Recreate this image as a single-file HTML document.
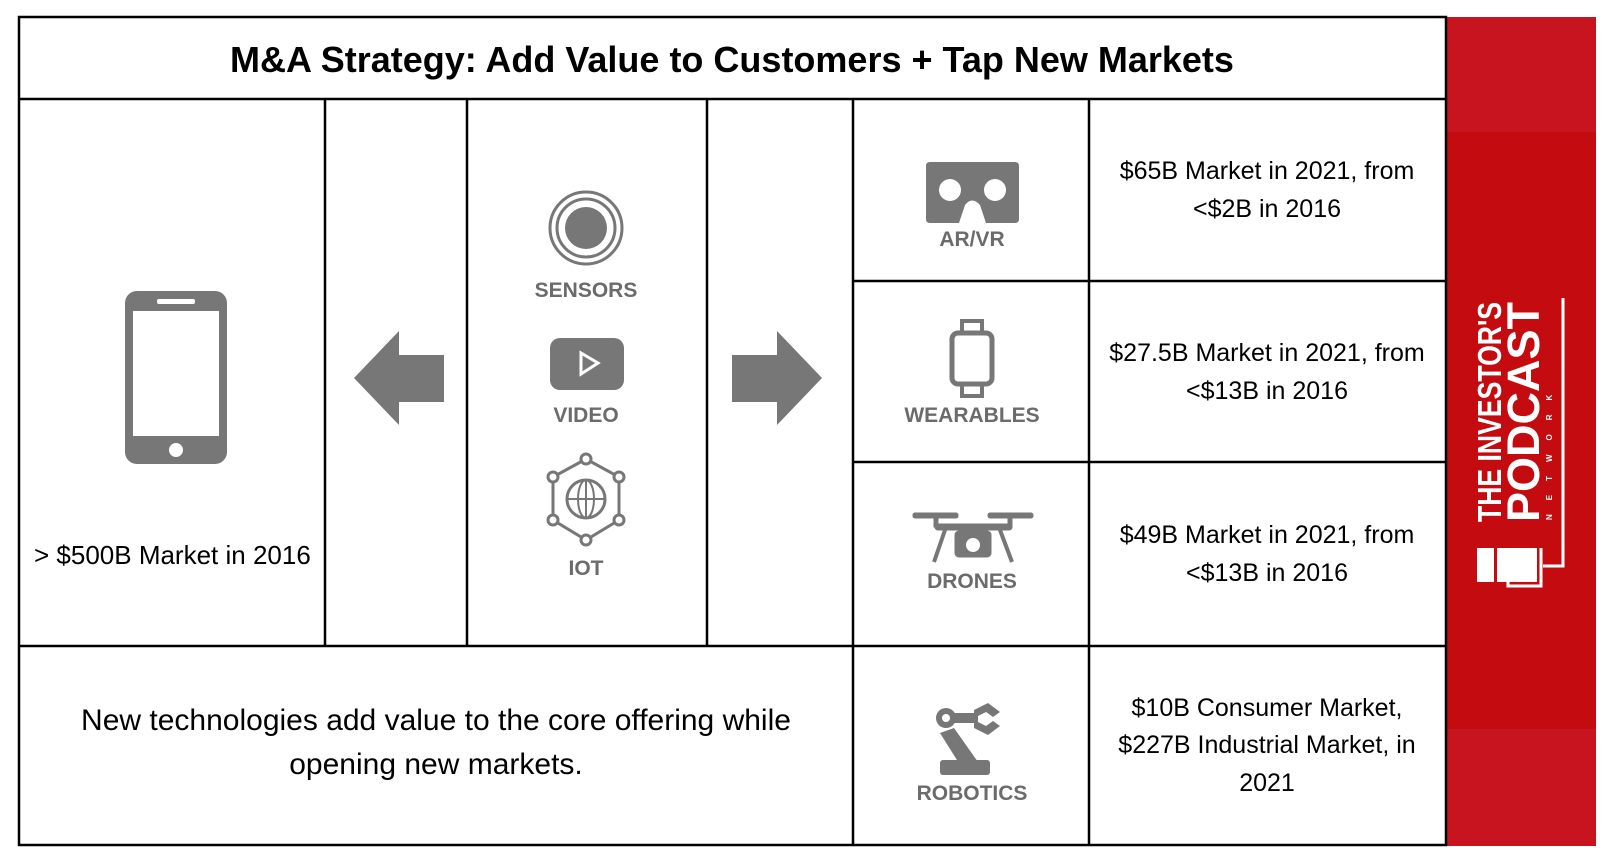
<!DOCTYPE html>
<html><head><meta charset="utf-8"><style>
html,body{margin:0;padding:0;background:#fff;}
svg{display:block;}
.t{font-family:"Liberation Sans",sans-serif;fill:#000;}
.l{font-family:"Liberation Sans",sans-serif;fill:#6b6b6b;font-weight:bold;font-size:21px;}
</style></head><body>
<svg width="1612" height="858" viewBox="0 0 1612 858" xmlns="http://www.w3.org/2000/svg">
<rect width="1612" height="858" fill="#fff"/>
<rect x="1446" y="17" width="150" height="829" fill="#c40c10"/>
<rect x="1446" y="17" width="150" height="115" fill="#c8141e"/>
<rect x="1446" y="729" width="150" height="117" fill="#c8141e"/>
<g stroke="#000" stroke-width="2.5" fill="none">
<rect x="19" y="17" width="1427" height="828"/>
<line x1="19" y1="99" x2="1446" y2="99"/>
<line x1="325" y1="99" x2="325" y2="646"/>
<line x1="467" y1="99" x2="467" y2="646"/>
<line x1="707" y1="99" x2="707" y2="646"/>
<line x1="853" y1="99" x2="853" y2="845"/>
<line x1="1089" y1="99" x2="1089" y2="845"/>
<line x1="853" y1="281" x2="1446" y2="281"/>
<line x1="853" y1="462" x2="1446" y2="462"/>
<line x1="19" y1="646" x2="1446" y2="646"/>
</g>
<text class="t" x="732" y="72" text-anchor="middle" font-size="36" font-weight="bold">M&amp;A Strategy: Add Value to Customers + Tap New Markets</text>
<rect x="125" y="291" width="102" height="173" rx="12" fill="#777"/>
<rect x="133" y="311" width="86" height="125" fill="#fff"/>
<rect x="157" y="299" width="38" height="5" rx="2" fill="#fff"/>
<circle cx="176" cy="450" r="7" fill="#fff"/>
<text class="t" x="34" y="564" font-size="26">&gt; $500B Market in 2016</text>
<polygon points="354,378 399,331 399,355 444,355 444,402 399,402 399,425" fill="#777"/>
<polygon points="822,378 777,331 777,355 732,355 732,402 777,402 777,425" fill="#777"/>
<circle cx="586" cy="228" r="36" fill="none" stroke="#777" stroke-width="3"/>
<circle cx="586" cy="228" r="29" fill="none" stroke="#777" stroke-width="3"/>
<circle cx="586" cy="228" r="21" fill="#777"/>
<text class="l" x="586" y="297" text-anchor="middle">SENSORS</text>
<rect x="550" y="338" width="74" height="52" rx="10" fill="#777"/>
<polygon points="581,353 581,374 598,363" fill="none" stroke="#fff" stroke-width="3"/>
<text class="l" x="586" y="422" text-anchor="middle">VIDEO</text>
<g stroke="#777" stroke-width="3" fill="#fff">
<polyline points="586,459 553,477 553,520 586,540 619,520 619,477 586,459" fill="none"/>
<circle cx="586" cy="499" r="19"/>
<ellipse cx="586" cy="499" rx="8" ry="19" fill="none" stroke-width="2"/>
<line x1="567" y1="499" x2="605" y2="499" stroke-width="2"/>
<line x1="586" y1="480" x2="586" y2="518" stroke-width="2"/>
<circle cx="586" cy="459" r="5"/><circle cx="553" cy="477" r="5"/><circle cx="619" cy="477" r="5"/>
<circle cx="553" cy="520" r="5"/><circle cx="619" cy="520" r="5"/><circle cx="586" cy="540" r="5"/>
</g>
<text class="l" x="586" y="575" text-anchor="middle">IOT</text>
<path d="M926,166 Q926,162 930,162 L1015,162 Q1019,162 1019,166 L1019,219 Q1019,223 1015,223 L986,223 L980,205 Q972,196 965,205 L959,223 L930,223 Q926,223 926,219 Z" fill="#777"/>
<circle cx="950" cy="190" r="11" fill="#fff"/><circle cx="995" cy="190" r="11" fill="#fff"/>
<text class="l" x="972" y="246" text-anchor="middle">AR/VR</text>
<rect x="962" y="321" width="20" height="14" fill="none" stroke="#777" stroke-width="4"/>
<rect x="962" y="382" width="20" height="14" fill="none" stroke="#777" stroke-width="4"/>
<rect x="952" y="333" width="40" height="51" rx="6" fill="#fff" stroke="#777" stroke-width="5"/>
<text class="l" x="972" y="422" text-anchor="middle" font-size="19">WEARABLES</text>
<g fill="#777" stroke="#777">
<rect x="913" y="513" width="45" height="5" rx="2"/><rect x="988" y="513" width="45" height="5" rx="2"/>
<rect x="934" y="515" width="4" height="12"/><rect x="1008" y="515" width="4" height="12"/>
<rect x="935" y="524" width="77" height="6" rx="3"/>
<line x1="945" y1="530" x2="934" y2="562" stroke-width="4"/><line x1="1000" y1="530" x2="1012" y2="562" stroke-width="4"/>
<rect x="955" y="531" width="36" height="26" rx="4"/>
</g>
<circle cx="973" cy="545" r="7" fill="#fff"/>
<text class="l" x="972" y="588" text-anchor="middle">DRONES</text>
<g fill="#777">
<circle cx="946" cy="718" r="10"/>
<rect x="954" y="713" width="20" height="10"/>
<path d="M974,710 L988,703 L1000,712 L993,717 L986,712 L978,716 L978,722 L986,726 L993,721 L1000,726 L988,735 L974,728 Z"/>
<polygon points="940,733 954,728 978,762 962,768"/>
<rect x="940" y="760" width="50" height="15" rx="3"/>
</g>
<circle cx="946" cy="718" r="4" fill="#fff"/>
<text class="l" x="972" y="800" text-anchor="middle">ROBOTICS</text>
<g class="t" font-size="25" text-anchor="middle">
<text x="1267" y="179">$65B Market in 2021, from</text>
<text x="1267" y="217">&lt;$2B in 2016</text>
<text x="1267" y="361">$27.5B Market in 2021, from</text>
<text x="1267" y="399">&lt;$13B in 2016</text>
<text x="1267" y="543">$49B Market in 2021, from</text>
<text x="1267" y="581">&lt;$13B in 2016</text>
<text x="1267" y="716">$10B Consumer Market,</text>
<text x="1267" y="753">$227B Industrial Market, in</text>
<text x="1267" y="791">2021</text>
<text x="436" y="730" font-size="30">New technologies add value to the core offering while</text>
<text x="436" y="774" font-size="30">opening new markets.</text>
</g>
<g fill="#fff">
<text transform="translate(1501,522) rotate(-90)" font-family="Liberation Sans,sans-serif" font-weight="bold" font-size="33" textLength="220" lengthAdjust="spacingAndGlyphs">THE INVESTOR'S</text>
<text transform="translate(1539,522) rotate(-90)" font-family="Liberation Sans,sans-serif" font-weight="bold" font-size="45" textLength="220" lengthAdjust="spacingAndGlyphs">PODCAST</text>
<text transform="translate(1552,520) rotate(-90)" font-family="Liberation Sans,sans-serif" font-weight="bold" font-size="8" letter-spacing="14">NETWORK</text>
<rect x="1477" y="548" width="17" height="34"/>
<rect x="1497" y="548" width="40" height="34"/>
</g>
<g fill="none" stroke="#fff" stroke-width="3">
<polyline points="1563,298 1563,566 1543,566"/>
<polyline points="1541,548 1541,586 1508,586 1508,580"/>
</g>
</svg>
</body></html>
